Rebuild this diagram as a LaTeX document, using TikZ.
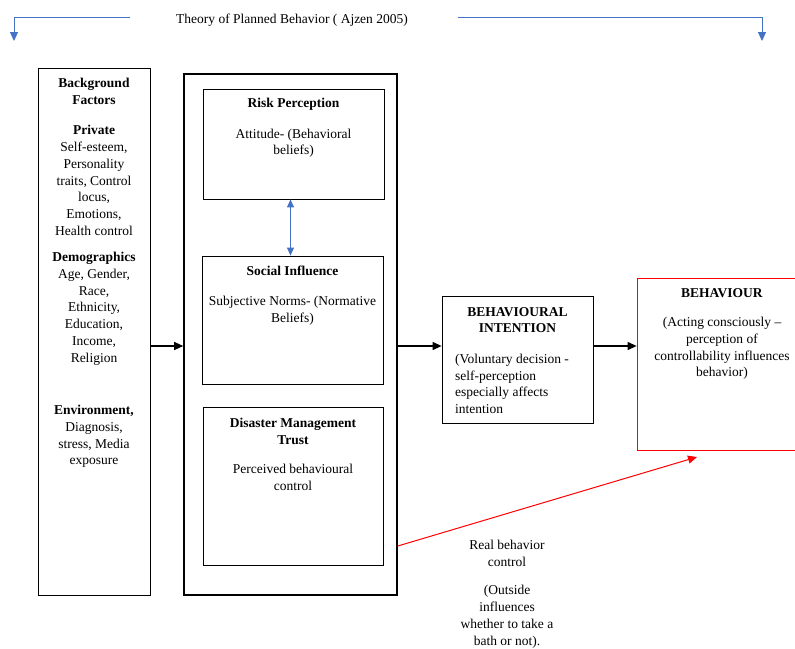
\documentclass[tikz,border=0pt]{standalone}
\usepackage{fontspec}
\setmainfont{Liberation Serif}
\usetikzlibrary{arrows.meta}
\definecolor{wordblue}{RGB}{68,114,196}

\begin{document}
\begin{tikzpicture}[x=1pt,y=1pt]
				\tikzset{every node/.style={font=\fontsize{13.5}{16.7}\selectfont, inner sep=0pt},
					box/.style={draw, rectangle, line width=0.8pt},
					txt/.style={anchor=north, align=center},
					flow/.style={-{Triangle[length=9pt,width=8pt]}, line width=1.2pt},
					blueline/.style={draw=wordblue, line width=1pt, -{Triangle[length=9pt,width=8pt]}}}
				\useasboundingbox (0,0) rectangle (795,-648);

				\node (title) at (292,-20) {Theory of Planned Behavior ( Ajzen 2005)};
				\coordinate (ltip) at (14,-41);
				\coordinate (rtip) at (762,-41);
				\draw[blueline] ([xshift=-46pt,yshift=3pt]title.west) -| (ltip);
				\draw[blueline] ([xshift=50pt,yshift=3pt]title.east) -| (rtip);

				\node[box, minimum width=112, minimum height=527] (bg) at (94,-331.5) {};
				\node[txt] (bgtext) at (94,-78) {\textbf{Background}\\ \textbf{Factors}\\[14pt]
					\textbf{Private}\\ Self-esteem,\\ Personality\\ traits, Control\\ locus,\\ Emotions,\\ Health control\\[10pt]
					\textbf{Demographics}\\ Age, Gender,\\ Race,\\ Ethnicity,\\ Education,\\ Income,\\ Religion\\[36pt]
					\textbf{Environment,}\\ Diagnosis,\\ stress, Media\\ exposure};

				\node[box, line width=1.6pt, minimum width=213, minimum height=521] (outer) at (290.5,-334.5) {};
				\node[box, minimum width=181, minimum height=110] (rp) at (293.5,-144) {};
				\node[txt] (rptext) at (293.5,-98) {\textbf{Risk Perception}\\[14pt] Attitude- (Behavioral\\ beliefs)};
				\node[box, minimum width=181, minimum height=128] (si) at (292.5,-320) {};
				\node[txt] (sitext) at (292.5,-266) {\textbf{Social Influence}\\[13pt] Subjective Norms- (Normative\\ Beliefs)};
				\node[box, minimum width=180, minimum height=158] (dmt) at (293,-486) {};
				\node[txt] (dmttext) at (293,-418) {\textbf{Disaster Management}\\ \textbf{Trust}\\[13pt] Perceived behavioural\\ control};

				\node[box, minimum width=151, minimum height=127] (bi) at (517.5,-359.5) {};
				\node[txt] (bihead) at (517.5,-307) {\textbf{BEHAVIOURAL}\\ \textbf{INTENTION}};
				\node[anchor=north west, align=left] (bibody) at (455,-354) {(Voluntary decision -\\ self-perception\\ especially affects\\ intention};

				\node[box, draw=red, minimum width=168, minimum height=172] (beh) at (721,-364) {};
				\node[txt] (behtext) at (722,-288) {\textbf{BEHAVIOUR}\\[13pt] (Acting consciously –\\ perception of\\ controllability influences\\ behavior)};

				\node[txt] (rbctext) at (507,-540) {Real behavior\\ control\\[12pt] (Outside\\ influences\\ whether to take a\\ bath or not).};

				\coordinate (mid) at (0,-346);
				\coordinate (rbtip) at (697,-457);
				\draw[blueline, {Triangle[length=8pt,width=7pt]}-{Triangle[length=8pt,width=7pt]}] ([xshift=-3pt]rp.south) to[] ([xshift=-3pt]rp.south |- si.north);
				\draw[flow] (bg.east |- mid) to[] (outer.west |- mid);
				\draw[flow] (outer.east |- mid) to[] (bi.west |- mid);
				\draw[flow] (bi.east |- mid) to[] (beh.west |- mid);
				\draw[flow, red, line width=1pt] (outer.east |- 0,-546) to[] (rbtip);
			\end{tikzpicture}
\end{document}
